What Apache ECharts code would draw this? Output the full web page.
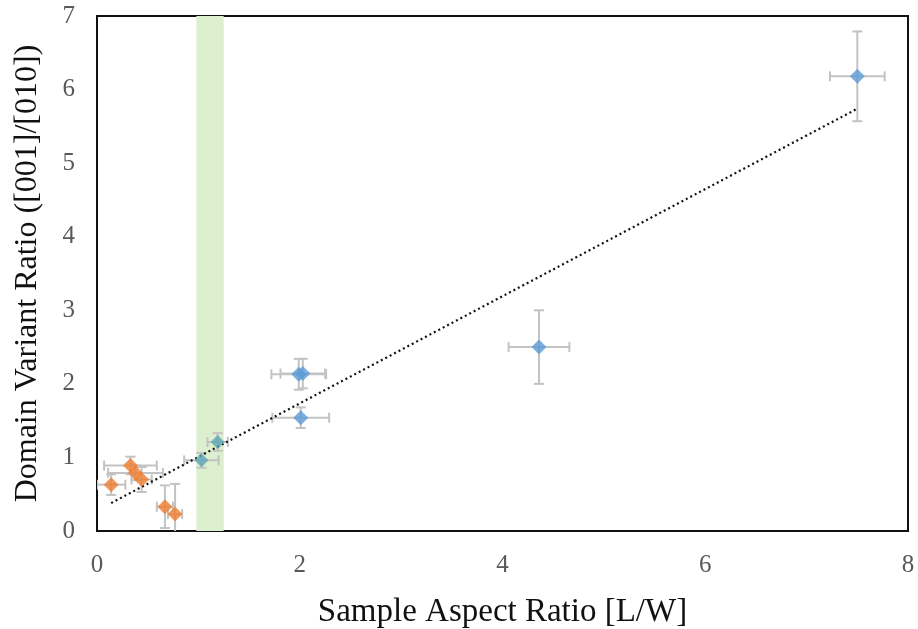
<!DOCTYPE html>
<html>
<head>
<meta charset="utf-8">
<script src="https://cdn.jsdelivr.net/npm/echarts@6/dist/echarts.min.js"></script>
<style>html,body{margin:0;padding:0;background:#fff}#c{width:918px;height:629px}</style>
</head>
<body>
<div id="c"></div>
<script>
// Orange group: [x, y, xErr, yErr]
const orangeX = [0.14, 0.33, 0.38, 0.44, 0.67, 0.77];
const orangeY = [0.63, 0.89, 0.79, 0.70, 0.33, 0.23];
const orangeXErr = [0.14, 0.26, 0.27, 0.10, 0.08, 0.07];
const orangeYErr = [0.14, 0.12, 0.10, 0.17, 0.29, 0.41];
// Teal group
const tealX = [1.03, 1.19];
const tealY = [0.96, 1.21];
const tealXErr = [0.17, 0.10];
const tealYErr = [0.10, 0.12];
// Blue group
const blueX = [1.99, 2.03, 2.01, 4.36, 7.50];
const blueY = [2.13, 2.14, 1.54, 2.50, 6.18];
const blueXErr = [0.27, 0.22, 0.28, 0.30, 0.27];
const blueYErr = [0.21, 0.20, 0.14, 0.50, 0.61];
// Trend line endpoints
const trendX = [0.14, 7.50];
const trendY = [0.38, 5.74];
// Highlighted band
const bandRange = [0.98, 1.25];
// Axis ticks
const xTicks = [0, 2, 4, 6, 8];
const yTicks = [0, 1, 2, 3, 4, 5, 6, 7];

const FONT = 'Liberation Serif';

function pts(xs, ys) { return xs.map((x, i) => [x, ys[i]]); }
function errData(xs, ys, xe, ye) { return xs.map((x, i) => [x, ys[i], xe[i], ye[i]]); }

const allErr = errData(orangeX, orangeY, orangeXErr, orangeYErr)
  .concat(errData(tealX, tealY, tealXErr, tealYErr))
  .concat(errData(blueX, blueY, blueXErr, blueYErr));

function renderErr(params, api) {
  const x = api.value(0), y = api.value(1), xe = api.value(2), ye = api.value(3);
  const c = api.coord([x, y]);
  const l = api.coord([x - xe, y]), r = api.coord([x + xe, y]);
  const t = api.coord([x, y + ye]), b = api.coord([x, y - ye]);
  const cap = 5;
  const style = { stroke: '#C3C3C3', lineWidth: 2, fill: null };
  const lines = [
    [l[0], c[1], r[0], c[1]],
    [l[0], c[1] - cap, l[0], c[1] + cap],
    [r[0], c[1] - cap, r[0], c[1] + cap],
    [c[0], t[1], c[0], b[1]],
    [c[0] - cap, t[1], c[0] + cap, t[1]],
    [c[0] - cap, b[1], c[0] + cap, b[1]]
  ];
  return {
    type: 'group',
    children: lines.map(p => ({ type: 'line', shape: { x1: p[0], y1: p[1], x2: p[2], y2: p[3] }, style: style }))
  };
}

const chart = echarts.init(document.getElementById('c'), null, { renderer: 'canvas' });
chart.setOption({
  animation: false,
  backgroundColor: '#fff',
  grid: { left: 97, right: 10, top: 16, bottom: 98, outerBoundsMode: 'none', containLabel: false, show: true, borderColor: '#111', borderWidth: 2, backgroundColor: 'transparent' },
  xAxis: {
    type: 'value', min: xTicks[0], max: xTicks[xTicks.length - 1], interval: 2,
    name: 'Sample Aspect Ratio [L/W]', nameLocation: 'middle', nameGap: 65,
    nameTextStyle: { fontFamily: FONT, fontSize: 33, color: '#111' },
    axisLine: { show: true, onZero: false, lineStyle: { color: '#111', width: 2 } },
    axisTick: { show: false }, splitLine: { show: false },
    axisLabel: { fontFamily: FONT, fontSize: 25, color: '#595959', margin: 22 }
  },
  yAxis: {
    type: 'value', min: yTicks[0], max: yTicks[yTicks.length - 1], interval: 1,
    name: 'Domain Variant Ratio ([001]/[010])', nameLocation: 'middle', nameGap: 53,
    nameTextStyle: { fontFamily: FONT, fontSize: 32, color: '#111' },
    axisLine: { show: true, onZero: false, lineStyle: { color: '#111', width: 2 } },
    axisTick: { show: false }, splitLine: { show: false },
    axisLabel: { fontFamily: FONT, fontSize: 25, color: '#595959', margin: 22 }
  },
  series: [
    {
      type: 'line', data: [], silent: true,
      markArea: { silent: true, itemStyle: { color: '#DCEFCE' }, data: [[{ xAxis: bandRange[0] }, { xAxis: bandRange[1] }]] },
      z: 1
    },
    { type: 'custom', renderItem: renderErr, data: allErr, clip: true, z: 2, silent: true },
    {
      type: 'line', data: pts(trendX, trendY), symbol: 'none', z: 3, silent: true,
      lineStyle: { color: '#111', width: 2.2, type: [2, 3] }
    },
    { type: 'scatter', data: pts(orangeX, orangeY), symbol: 'diamond', symbolSize: 15, itemStyle: { color: '#ED7D31' }, z: 4 },
    { type: 'scatter', data: pts(tealX, tealY), symbol: 'diamond', symbolSize: 14, itemStyle: { color: '#5BA5B4' }, z: 4 },
    { type: 'scatter', data: pts(blueX, blueY), symbol: 'diamond', symbolSize: 15, itemStyle: { color: '#5B9BD5' }, z: 4 }
  ]
});
</script>
</body>
</html>
